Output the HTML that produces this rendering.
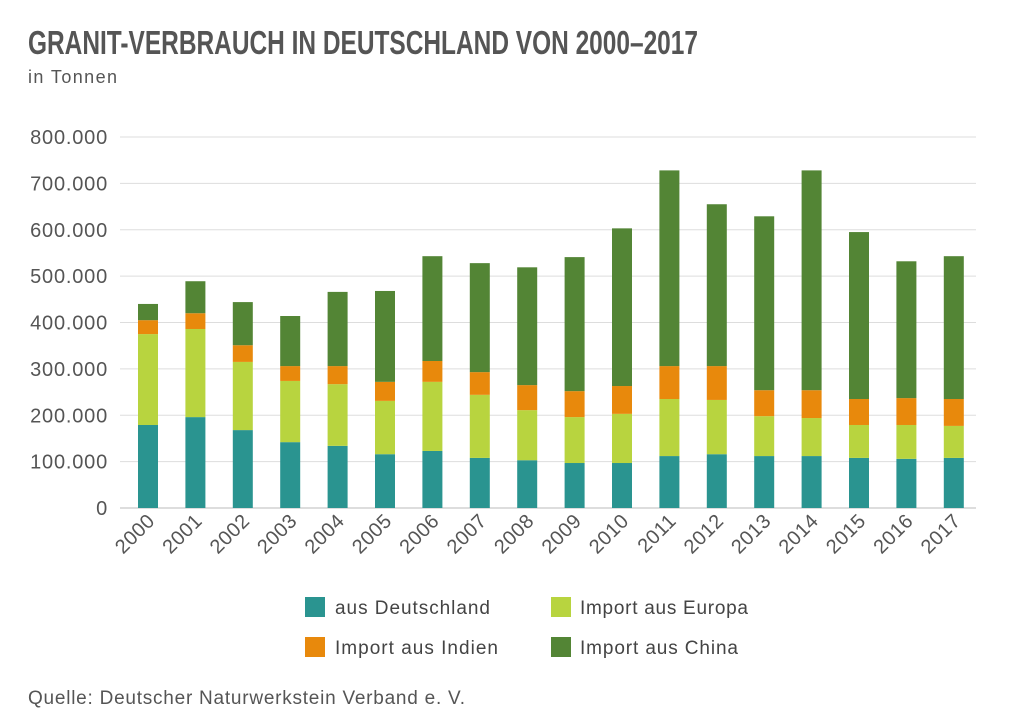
<!DOCTYPE html>
<html><head><meta charset="utf-8"><style>
body{margin:0;background:#fff;width:1011px;height:723px;overflow:hidden;font-family:"Liberation Sans",sans-serif}
</style></head><body>
<svg width="1011" height="723" id="c">
<text x="28" y="54" font-family="Liberation Sans" font-weight="bold" font-size="33" fill="#555" textLength="670" lengthAdjust="spacingAndGlyphs">GRANIT-VERBRAUCH IN DEUTSCHLAND VON 2000–2017</text>
<text x="28" y="83" font-size="18" fill="#555" textLength="89">in Tonnen</text>
<g id="grid"></g><g id="bars"></g><g id="xl"></g>
<g>
<rect x="305" y="597" width="20" height="20" fill="#2a9490"/>
<text x="335" y="614" font-size="19" fill="#444" textLength="155">aus Deutschland</text>
<rect x="551" y="597" width="20" height="20" fill="#b8d43f"/>
<text x="580" y="614" font-size="19" fill="#444" textLength="168">Import aus Europa</text>
<rect x="305" y="637" width="20" height="20" fill="#e8890c"/>
<text x="335" y="654" font-size="19" fill="#444" textLength="163">Import aus Indien</text>
<rect x="551" y="637" width="20" height="20" fill="#538535"/>
<text x="580" y="654" font-size="19" fill="#444" textLength="158">Import aus China</text>
</g>
<text x="28" y="704" font-size="19" fill="#555" textLength="437">Quelle: Deutscher Naturwerkstein Verband e. V.</text>
</svg>
<script>
const years=["2000","2001","2002","2003","2004","2005","2006","2007","2008","2009","2010","2011","2012","2013","2014","2015","2016","2017"];
const deutschland=[179000,196000,168000,142000,134000,116000,123000,108000,103000,97000,97000,112000,116000,112000,112000,108000,106000,108000];
const europa=[196000,190000,147000,132000,133000,115000,149000,136000,108000,99000,106000,123000,117000,86000,82000,71000,73000,69000];
const indien=[30000,34000,36000,32000,39000,41000,45000,49000,54000,56000,60000,71000,73000,56000,60000,56000,58000,58000];
const china=[35000,69000,93000,108000,160000,196000,226000,235000,254000,289000,340000,422000,349000,375000,474000,360000,295000,308000];
const yTicks=[0,100000,200000,300000,400000,500000,600000,700000,800000];
const yTickLabels=["0","100.000","200.000","300.000","400.000","500.000","600.000","700.000","800.000"];
const NS="http://www.w3.org/2000/svg";
const y=v=>508-v*(371/800000);
const x=i=>148+i*47.4;
function mk(t,a,p){const e=document.createElementNS(NS,t);for(const k in a)e.setAttribute(k,a[k]);p.appendChild(e);return e;}
const grid=document.getElementById('grid');
yTicks.forEach((v,i)=>{
 const l=mk('line',{x1:120,x2:976,y1:y(v),y2:y(v),stroke:i==0?'#bbb':'#ddd','stroke-width':1},grid);
 
 
 const t=mk('text',{x:108,y:y(v)+7,'text-anchor':'end','font-size':20,'letter-spacing':'0.8',fill:'#555'},grid);
 t.textContent=yTickLabels[i];
 
 
});
const series=[[deutschland,'#2a9490','deutschland'],[europa,'#b8d43f','europa'],[indien,'#e8890c','indien'],[china,'#538535','china']];
const bars=document.getElementById('bars'),xl=document.getElementById('xl');
years.forEach((yr,i)=>{
 let base=0;
 series.forEach(s=>{
  const v=s[0][i];
  const r=mk('rect',{x:x(i)-10,width:20,y:y(base+v),height:y(base)-y(base+v),fill:s[1]},bars);
  
  
  base+=v;
 });
 const t=mk('text',{x:x(i)+8,y:522,'text-anchor':'end','font-size':20,'letter-spacing':'0.5',fill:'#555',transform:`rotate(-45 ${x(i)+8} 522)`},xl);
 t.textContent=yr;
 
 
});
</script>
</body></html>
